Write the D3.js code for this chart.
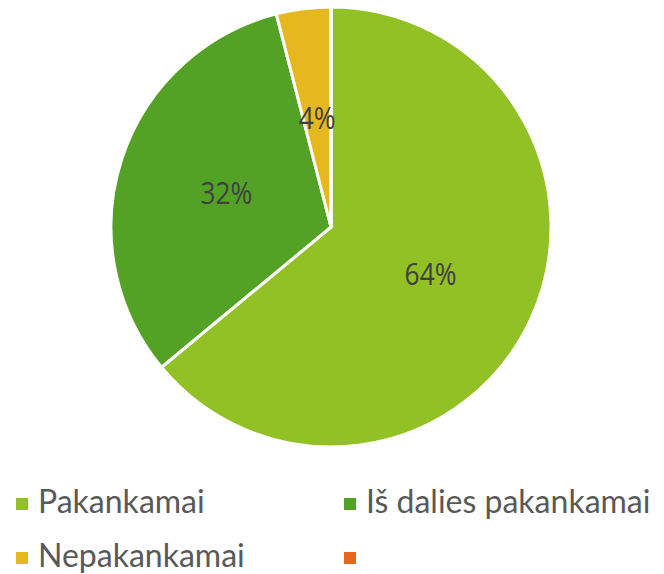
<!DOCTYPE html>
<html>
<head>
<meta charset="utf-8">
<script src="https://cdn.jsdelivr.net/npm/d3@7"></script>
<style>
  body { margin: 0; background: #fff; }
</style>
</head>
<body>
<div id="chart"></div>
<script>
// data
var categories = ["Pakankamai", "Iš dalies pakankamai", "Nepakankamai", ""];
var values = [64, 32, 4, 0];
var colors = ["#92c126", "#54a225", "#e5b820", "#e8661b"];

const WIDTH = 664;
const HEIGHT = 574;
const CX = 331, CY = 227, RADIUS = 220;

var data = categories.map((c, i) => ({ name: c, value: values[i], color: colors[i] }));
var total = d3.sum(values);

var svg = d3.select("#chart")
    .append("svg")
    .attr("width", WIDTH)
    .attr("height", HEIGHT);

var pie = d3.pie()
    .sort(null)
    .value(d => d.value);

var arc = d3.arc().innerRadius(0).outerRadius(RADIUS);
var labelArc = d3.arc().innerRadius(RADIUS * 0.5).outerRadius(RADIUS * 0.5);

var g = svg.append("g")
    .attr("transform", "translate(" + CX + "," + CY + ")");

var slices = pie(data);

g.selectAll("path")
    .data(slices)
    .enter()
    .append("path")
    .attr("d", arc)
    .attr("fill", d => d.data.color)
    .attr("stroke", "#fff")
    .attr("stroke-width", 3)
    .attr("stroke-linejoin", "round");

// narrow labels, squeeze a bit horizontally
g.selectAll("text")
    .data(slices.filter(d => d.data.value > 0))
    .enter()
    .append("text")
    .attr("transform", d => "translate(" + labelArc.centroid(d) + ") scale(0.85,1)")
    .attr("text-anchor", "middle")
    .attr("dy", "0.36em")
    .style("font-family", "'Open Sans', sans-serif")
    .style("font-size", "31px")
    .style("fill", "#404040")
    .text(d => Math.round(d.data.value / total * 100) + "%");

// legend, two columns
var legend = svg.append("g")
    .selectAll("g")
    .data(data)
    .enter()
    .append("g")
    .attr("transform", (d, i) => "translate(" + (i % 2 ? 344 : 16) + "," + (504 + Math.floor(i / 2) * 54) + ")");

legend.append("rect")
    .attr("x", 0)
    .attr("y", -6)
    .attr("width", 12)
    .attr("height", 12)
    .attr("fill", d => d.color);

legend.append("text")
    .attr("x", 22)
    .attr("y", 9)
    .style("font-family", "Lato, sans-serif")
    .style("font-size", "32px")
    .style("fill", "#595959")
    .text(d => d.name);
</script>
</body>
</html>
